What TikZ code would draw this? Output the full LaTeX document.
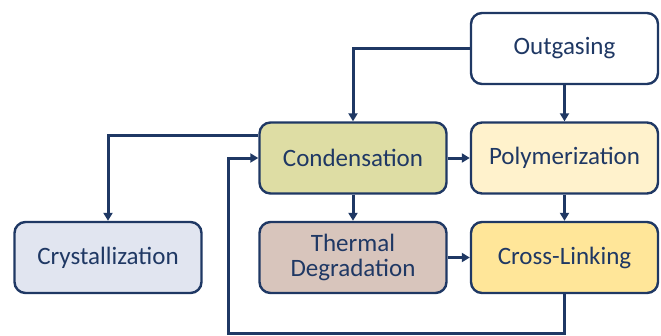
\documentclass[tikz,border=0pt]{standalone}
\usepackage{fontspec}
\setmainfont{Carlito}
\usetikzlibrary{arrows.meta}

\definecolor{navy}{HTML}{1F3864}
\definecolor{condfill}{HTML}{DEDDA4}
\definecolor{polyfill}{HTML}{FFF2CC}
\definecolor{crossfill}{HTML}{FFE699}
\definecolor{thermfill}{HTML}{D8C5BC}
\definecolor{crystfill}{HTML}{E1E5F0}

\begin{document}
\begin{tikzpicture}[x=1pt, y=-1pt,
  stage/.style={draw=navy, line width=2.4pt, rounded corners=11pt,
    minimum width=187pt, minimum height=71pt, inner sep=0pt,
    text=navy, align=center, font=\fontsize{25}{25}\selectfont},
  flow/.style={draw=navy, line width=3pt,
    -{Triangle[length=8pt, width=9pt]}}]
\useasboundingbox (0,0) rectangle (661,335);
% stages
\node[stage, fill=white] (out) at (564.5,48.5) {Outgasing};
\node[stage, fill=condfill] (cond) at (353,158) {Condensation};
\node[stage, fill=polyfill] (poly) at (564.5,158) {Polymerization};
\node[stage, fill=crystfill] (cryst) at (108,257.5) {Crystallization};
\node[stage, fill=thermfill] (therm) at (353,257.5) {Thermal\\Degradation};
\node[stage, fill=crossfill] (cross) at (564.5,257.5) {Cross-Linking};
% links
\draw[flow] (out.west) -| (cond.north);
\draw[flow] (out.south) -- (poly.north);
\draw[flow] ([yshift=23pt]cond.west) -| (cryst.north);
\draw[flow] (cond.east) -- (poly.west);
\draw[flow] (cond.south) -- (therm.north);
\draw[flow] (poly.south) -- (cross.north);
\draw[flow] (therm.east) -- (cross.west);
% feedback loop
\coordinate (loop) at (228,333);
\draw[flow] (cross.south) |- (loop) |- (cond.west);
\end{tikzpicture}
\end{document}
